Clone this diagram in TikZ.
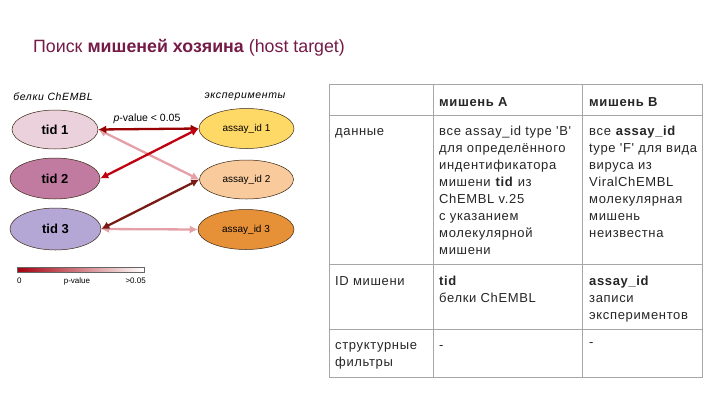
\documentclass[tikz,border=0pt]{standalone}
\usepackage{fontspec}
\setmainfont{Liberation Sans}
\newfontfamily\tabfont{Liberation Sans}[LetterSpace=5]
\newfontfamily\capfont{Liberation Sans}[LetterSpace=6]
\usetikzlibrary{shapes.geometric,arrows.meta}
\definecolor{titlecol}{HTML}{741B47}
\definecolor{tidA}{HTML}{EAD1DC}
\definecolor{tidB}{HTML}{C27BA0}
\definecolor{tidC}{HTML}{B4A7D6}
\definecolor{asA}{HTML}{FFD966}
\definecolor{asB}{HTML}{F9CB9C}
\definecolor{asC}{HTML}{E69138}
\definecolor{darkred}{HTML}{990000}
\definecolor{midred}{HTML}{C00010}
\definecolor{brownred}{HTML}{7A1A14}
\definecolor{pinkline}{HTML}{E4A0A6}
\definecolor{gridgray}{HTML}{A6A6A6}
\definecolor{txt}{HTML}{262626}
\begin{document}
\begin{tikzpicture}[x=1pt,y=-1pt,
  ell/.style={ellipse,draw=black!70!brown,line width=0.5pt,inner sep=0pt},
  tidn/.style={ell,font=\fontsize{13}{15}\selectfont\bfseries},
  asn/.style={ell,font=\fontsize{10}{12}\selectfont},
  link/.style={line width=2.3pt,{Latex[length=8pt,width=8pt]}-{Latex[length=8pt,width=8pt]}},
  cell/.style={anchor=north west,inner sep=0pt,align=left,text=txt,font=\tabfont\fontsize{13}{17}\selectfont},
  grid/.style={draw=gridgray,line width=0.9pt},
  small/.style={inner sep=0pt,font=\fontsize{8}{9}\selectfont}
]
\useasboundingbox (0,0) rectangle (720,405);
\fill[white] (0,0) rectangle (720,405);
% title
\node[anchor=base west,inner sep=0pt,text=titlecol,font=\fontsize{17.8}{20}\selectfont] (title) at (33,52)
  {Поиск \textbf{мишеней хозяина} (host target)};
% column captions
\node[inner sep=0pt,font=\capfont\fontsize{10.5}{12}\selectfont\itshape] (capL) at (53,97) {белки ChEMBL};
\node[inner sep=0pt,font=\capfont\fontsize{10.5}{12}\selectfont\itshape] (capR) at (245,97) {эксперименты};
% ellipses
\node[tidn,fill=tidA,minimum width=86pt,minimum height=39pt] (t1) at (55,129.5) {tid 1};
\node[tidn,fill=tidB,minimum width=90pt,minimum height=41pt] (t2) at (55,178.5) {tid 2};
\node[tidn,fill=tidC,minimum width=91pt,minimum height=42pt] (t3) at (55.5,229) {tid 3};
\node[asn,fill=asA,minimum width=95pt,minimum height=40pt] (a1) at (246.5,128.5) {assay\_id 1};
\node[asn,fill=asB,minimum width=94pt,minimum height=39pt] (a2) at (246.5,179.5) {assay\_id 2};
\node[asn,fill=asC,minimum width=96pt,minimum height=40pt] (a3) at (246,229.5) {assay\_id 3};
% links
\draw[link,pinkline] (t1.east) -- (a2.west);
\draw[link,pinkline] (t3.east) -- (a3.west);
\draw[link,darkred] (t1.east) -- (a1.west);
\draw[link,midred] (a1.west) -- (t2.east);
\draw[link,brownred] (t3.east) -- (a2.west);
\node[inner sep=0pt,font=\fontsize{10.5}{12}\selectfont] (pv) at (147,119) {\textit{p}-value < 0.05};
% colour bar
\node[draw=black!60,line width=0.5pt,inner sep=0pt,minimum width=127pt,minimum height=5pt,
  left color=midred!85!black,right color=white] (bar) at (80.5,270) {};
\node[small,anchor=base west] (b0) at (17,283) {0};
\node[small,anchor=base] (bp) at (77,283) {p-value};
\node[small,anchor=base east] (b5) at (146,283) {>0.05};
% table grid
\draw[grid] (329,84) rectangle (702,377);
\draw[grid] (329,115) -- (702,115);
\draw[grid] (329,264) -- (702,264);
\draw[grid] (329,329) -- (702,329);
\draw[grid] (433,84) -- (433,377);
\draw[grid] (582,84) -- (582,377);
% header
\node[cell,font=\tabfont\fontsize{13}{17}\selectfont\bfseries] (hA) at (439,94.1) {\strut мишень А};
\node[cell,font=\tabfont\fontsize{13}{17}\selectfont\bfseries] (hB) at (589,94.1) {\strut мишень В};
% row 1
\node[cell] (r1c1) at (335,123.1) {\strut данные};
\node[cell] (r1c2) at (439,123.1) {\strut все assay\_id type 'B'\\для определённого\\индентификатора\\мишени \textbf{tid} из\\ChEMBL v.25\\с указанием\\молекулярной\\мишени};
\node[cell] (r1c3) at (589,123.1) {\strut все \textbf{assay\_id}\\type 'F' для вида\\вируса из\\ViralChEMBL\\молекулярная\\мишень\\неизвестна};
% row 2
\node[cell] (r2c1) at (335,273.1) {\strut ID мишени};
\node[cell] (r2c2) at (439,273.1) {\strut \textbf{tid}\\белки ChEMBL};
\node[cell] (r2c3) at (589,273.1) {\strut \textbf{assay\_id}\\записи\\экспериментов};
% row 3
\node[cell] (r3c1) at (335,337.1) {\strut структурные\\фильтры};
\node[cell] (r3c2) at (439,337.1) {\strut -};
\node[cell] (r3c3) at (589,334.1) {\strut -};
\end{tikzpicture}
\end{document}
